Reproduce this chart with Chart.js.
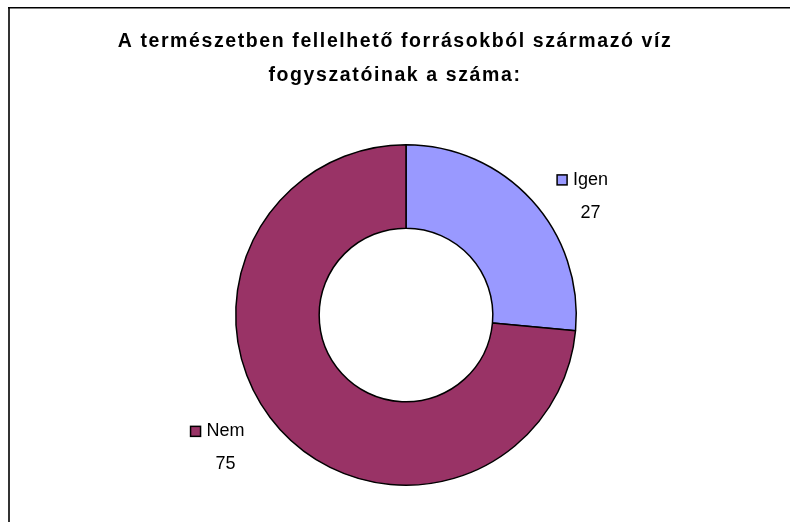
<!DOCTYPE html>
<html>
<head>
<meta charset="utf-8">
<script src="https://cdn.jsdelivr.net/npm/chart.js@4"></script>
<style>
  html, body { margin: 0; padding: 0; background: #fff; }
  #wrap { width: 790px; height: 522px; }
</style>
</head>
<body>
<div id="wrap"><canvas id="chart"></canvas></div>
<script>
const titleLines = ['A természetben fellelhető forrásokból származó víz', 'fogyszatóinak a száma:'];
const categories = ['Igen', 'Nem'];
const counts = [27, 75];
const colors = ['#9999FF', '#993366'];

// frame lines (left + top) like the original cropped chart area,
// title spaced out and centred on the whole canvas, not the plot
const framePlugin = {
  id: 'frame',
  beforeDraw(chart) {
    const ctx = chart.ctx;
    ctx.save();
    ctx.fillStyle = '#fff';
    ctx.fillRect(0, 0, chart.width, chart.height);
    ctx.fillStyle = '#333';
    ctx.fillRect(8, 7, 2, chart.height - 7);
    ctx.fillStyle = '#000';
    ctx.fillRect(8, 7, chart.width - 8, 1.5);
    ctx.restore();
    const area = chart.chartArea;
    ctx.save();
    ctx.translate(chart.width / 2 - (area.left + area.right) / 2, 0);
    ctx.letterSpacing = '1.6px';
  },
  beforeDatasetsDraw(chart) {
    chart.ctx.restore();
  }
};

// labels outside the ring: legend key + category, value under it
const sliceLabels = {
  id: 'sliceLabels',
  afterDatasetsDraw(chart) {
    const ctx = chart.ctx;
    const meta = chart.getDatasetMeta(0);
    ctx.save();
    ctx.letterSpacing = '0px';
    ctx.font = '18px "Liberation Sans", Arial, sans-serif';
    ctx.textBaseline = 'middle';
    meta.data.forEach((arc, i) => {
      const p = arc.getProps(['x', 'y', 'startAngle', 'endAngle', 'outerRadius'], true);
      const label = categories[i];
      const tw = ctx.measureText(label).width;
      const box = 10, gap = 6;
      const total = box + gap + tw;
      // excel-like placement: a bit past the slice middle, pushed out by label width
      const ang = (p.startAngle + p.endAngle) / 2 + 0.136;
      const dist = p.outerRadius + 12 + total * 0.75;
      const cx = p.x + Math.cos(ang) * dist - 5;
      const cy = p.y + Math.sin(ang) * dist + 6.5;
      const left = cx - total / 2;
      const y1 = cy - 16.5, y2 = cy + 16.5;
      ctx.fillStyle = colors[i];
      ctx.fillRect(left, y1 - box / 2, box, box);
      ctx.strokeStyle = '#000';
      ctx.lineWidth = 1.5;
      ctx.strokeRect(left, y1 - box / 2, box, box);
      ctx.fillStyle = '#000';
      ctx.textAlign = 'left';
      ctx.fillText(label, left + box + gap, y1);
      ctx.textAlign = 'center';
      ctx.fillText(String(counts[i]), left + box + gap + tw / 2, y2);
    });
    ctx.restore();
  }
};

new Chart(document.getElementById('chart'), {
  type: 'doughnut',
  data: {
    labels: categories,
    datasets: [{
      data: counts,
      backgroundColor: colors,
      borderColor: '#000',
      borderWidth: 1.5,
      borderAlign: 'center'
    }]
  },
  options: {
    responsive: true,
    maintainAspectRatio: false,
    animation: false,
    cutout: '51%',
    layout: { padding: { left: 22, right: 0, top: 0, bottom: 36 } },
    plugins: {
      legend: { display: false },
      tooltip: { enabled: false },
      title: {
        display: true,
        text: titleLines,
        color: '#000',
        font: { family: '"Liberation Sans", Arial, sans-serif', size: 19.5, weight: 'bold', lineHeight: 34 / 19.5 },
        padding: { top: 25, bottom: 51 }
      }
    }
  },
  plugins: [framePlugin, sliceLabels]
});
</script>
</body>
</html>
